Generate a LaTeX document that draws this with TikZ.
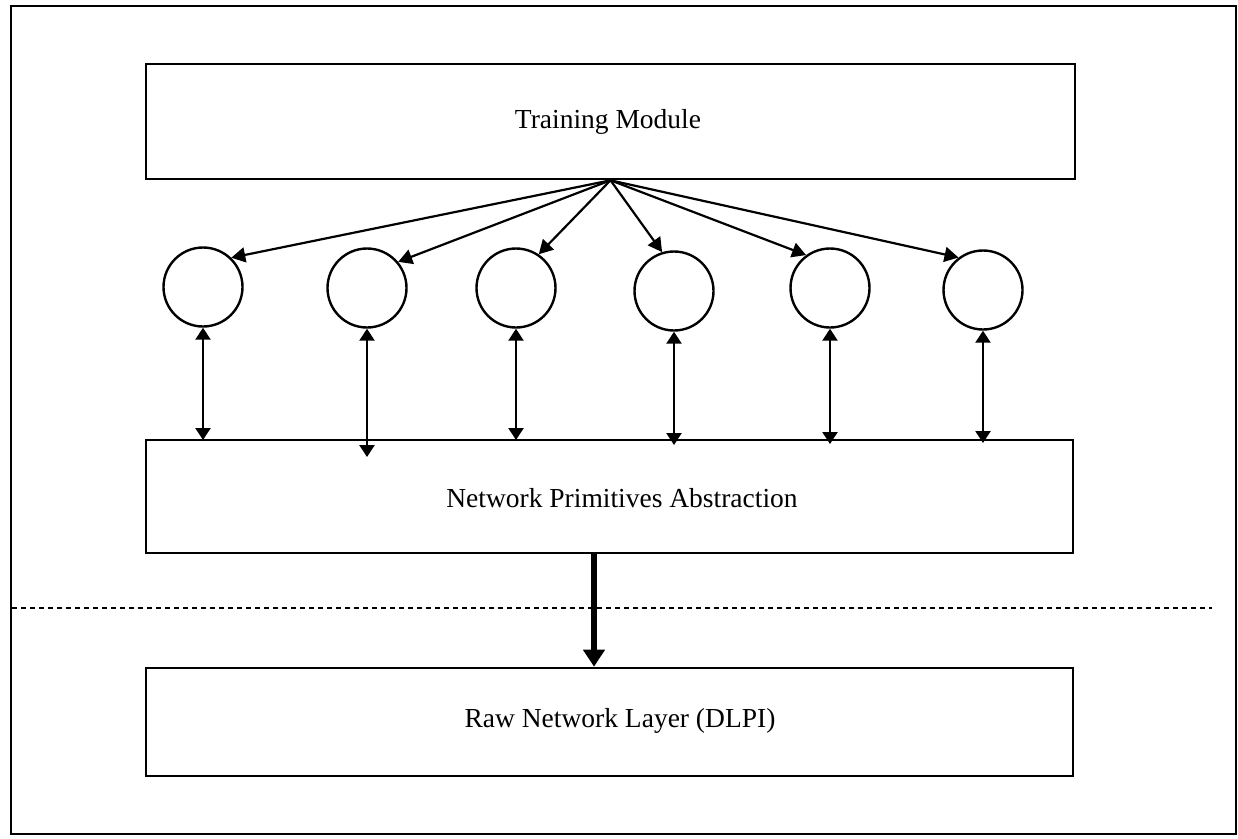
\documentclass[tikz,border=0pt]{standalone}
\usepackage{fontspec}
\setmainfont{Liberation Serif}
\usetikzlibrary{arrows.meta}
\begin{document}
\begin{tikzpicture}[x=1pt,y=-1pt,
  box/.style={draw,line width=2.6pt,rectangle,inner sep=0pt},
  unit/.style={draw,line width=2.4pt,circle,minimum size=79pt,inner sep=0pt},
  lbl/.style={font=\fontsize{27.5}{32}\selectfont,inner sep=0pt,anchor=base},
  fan/.style={line width=2.2pt,-{Triangle[width=15pt,length=14pt]}},
  link/.style={line width=2.4pt,{Triangle[width=15pt,length=12pt]}-{Triangle[width=15pt,length=12pt]}},
  down/.style={line width=6pt,-{Triangle[width=21pt,length=17pt]}},
  divider/.style={line width=2pt,dash pattern=on 5pt off 4pt},
  frame/.style={draw,line width=2.6pt}]
\useasboundingbox (0,0) rectangle (1238,838);
\draw[frame] (11,6) rectangle (1236,834);

% boxes
\node[box,minimum width=929pt,minimum height=115pt] (tm) at (610.5,121.5) {};
\node[box,minimum width=927pt,minimum height=113pt] (npa) at (609.5,496.5) {};
\node[box,minimum width=927pt,minimum height=108pt] (raw) at (609.5,722) {};

\node[lbl] (tmlabel) at (608,128) {Training Module};
\node[lbl] (npalabel) at (622,507) {Network Primitives Abstraction};
\node[lbl] (rawlabel) at (620,727) {Raw Network Layer (DLPI)};

% units
\node[unit] (c1) at (203,287) {};
\node[unit] (c2) at (367,288) {};
\node[unit] (c3) at (516,288) {};
\node[unit] (c4) at (674,291) {};
\node[unit] (c5) at (830,288) {};
\node[unit] (c6) at (983,290) {};

% fan-out arrows
\draw[fan] (tm.south) -- (c1.46);
\draw[fan] (tm.south) -- (c2.40);
\draw[fan] (tm.south) -- (c3.56);
\draw[fan] (tm.south) -- (c4.107);
\draw[fan] (tm.south) -- (c5.126);
\draw[fan] (tm.south) -- (c6.127);

% links to abstraction layer
\coordinate (e1) at (c1.south |- 0,440);
\coordinate (e2) at (c2.south |- 0,457);
\coordinate (e3) at (c3.south |- 0,440);
\coordinate (e4) at (c4.south |- 0,445);
\coordinate (e5) at (c5.south |- 0,444);
\coordinate (e6) at (c6.south |- 0,443);
\draw[link] (c1.south) -- (e1);
\draw[link] (c2.south) -- (e2);
\draw[link] (c3.south) -- (e3);
\draw[link] (c4.south) -- (e4);
\draw[link] (c5.south) -- (e5);
\draw[link] (c6.south) -- (e6);

% divider
\coordinate (dl) at (12,608);
\coordinate (dr) at (1212,608);
\draw[divider] (dl) -- (dr);

% thick arrow down
\draw[down] (npa.south -| 594,0) -- (raw.north -| 594,0);
\end{tikzpicture}
\end{document}
